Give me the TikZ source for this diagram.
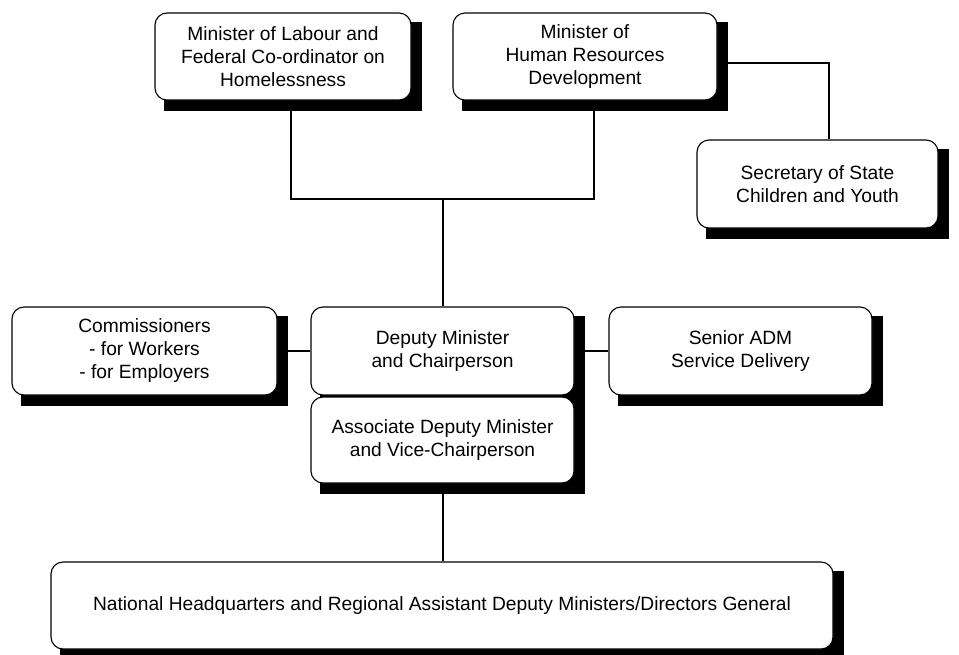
\documentclass[tikz,border=0pt]{standalone}
\usepackage{fontspec}
\setmainfont{Liberation Sans}
\usetikzlibrary{backgrounds}
\tikzset{
  unit/.style={draw, line width=1.1pt, rounded corners=12pt, fill=white, align=center,
    inner sep=0pt, font=\fontsize{19.2}{23}\selectfont},
  link/.style={line width=1.1pt},
  shade/.style={fill=black}
}
\newcommand{\boxshadow}[1]{%
  \fill[shade] ([shift={(10,10)}]#1.south west) rectangle ([shift={(10,10)}]#1.north east);}
\begin{document}
\begin{tikzpicture}[x=1pt,y=-1pt]
\useasboundingbox (0,0) rectangle (959,654);
% top row
\node[unit, minimum width=256pt, minimum height=87pt] (labour) at (283,56.5)
  {Minister of Labour and\\Federal Co-ordinator on\\Homelessness};
\node[unit, minimum width=264pt, minimum height=87pt] (hrd) at (585,56.5)
  {Minister of\\Human Resources\\Development};
\node[unit, minimum width=241pt, minimum height=88pt] (youth) at (817.5,184)
  {Secretary of State\\Children and Youth};
% middle row
\node[unit, minimum width=265pt, minimum height=88pt] (comm) at (144.5,351)
  {Commissioners\\- for Workers\\- for Employers};
\node[unit, minimum width=263pt, minimum height=88pt] (deputy) at (442.5,351)
  {Deputy Minister\\and Chairperson};
\node[unit, minimum width=263pt, minimum height=88pt] (senior) at (740.5,351)
  {Senior ADM\\Service Delivery};
\node[unit, minimum width=263pt, minimum height=86pt] (assoc) at (442.5,440)
  {Associate Deputy Minister\\and Vice-Chairperson};
% bottom
\node[unit, minimum width=782pt, minimum height=87pt] (hq) at (442,605.5)
  {National Headquarters and Regional Assistant Deputy Ministers/Directors General};
\coordinate (join) at (443,199);
\begin{scope}[on background layer]
\boxshadow{labour}
\boxshadow{hrd}
\boxshadow{youth}
\boxshadow{comm}
\boxshadow{deputy}
\boxshadow{senior}
\boxshadow{assoc}
\boxshadow{hq}
\draw[link] (labour.south -| 291,0) |- (join);
\draw[link] (hrd.south -| 594,0) |- (join);
\draw[link] (join) -- (deputy.north -| join);
\draw[link] (hrd.east |- 0,63) -| (youth.north -| 829,0);
\draw[link] (comm) -- (deputy);
\draw[link] (deputy) -- (senior);
\draw[link] (assoc.south -| 443,0) -- (hq.north -| 443,0);
\end{scope}
\end{tikzpicture}
\end{document}
